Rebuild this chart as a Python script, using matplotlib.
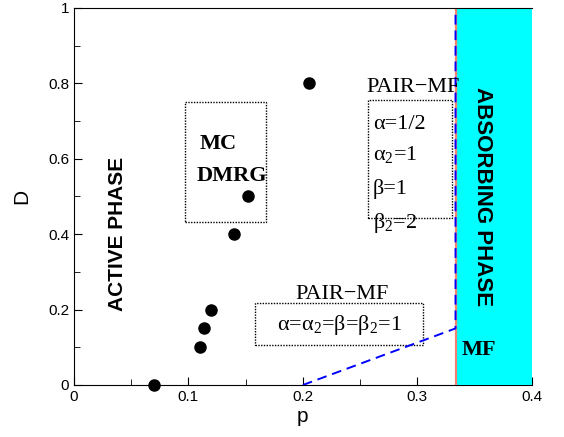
import matplotlib.pyplot as plt
from matplotlib.patches import Rectangle

# data points (MC / DMRG)
p_pts = [0.070, 0.110, 0.114, 0.120, 0.140, 0.152, 0.205]
d_pts = [0.0, 0.10, 0.15, 0.20, 0.40, 0.50, 0.80]

# mean-field boundary
mf_p = [0.2, 1/3, 1/3]
mf_d = [0.0, 0.15, 1.0]

SERIF = 'Liberation Serif'
SANS = 'Liberation Sans'
plt.rcParams['mathtext.fontset'] = 'custom'
plt.rcParams['mathtext.rm'] = SERIF
plt.rcParams['mathtext.it'] = SERIF
plt.rcParams['mathtext.default'] = 'rm'

fig = plt.figure(figsize=(5.64, 4.37), dpi=100)
ax = fig.add_axes([0.131, 0.119, 0.812, 0.863])

# absorbing phase region
ax.add_patch(Rectangle((1/3, 0), 0.4 - 1/3, 1, facecolor='#00ffff',
                       edgecolor='none', zorder=3))
ax.axvline(1/3, color='#f08070', lw=1.6, zorder=4)
ax.plot(mf_p, mf_d, color='#0000ff', lw=1.4, ls=(0, (5, 3)), zorder=5)

ax.plot(p_pts, d_pts, 'o', color='black', ms=8, zorder=6, clip_on=False)

# dotted boxes
for x0, y0, x1, y1 in [(0.097, 0.432, 0.168, 0.750),
                       (0.257, 0.443, 0.330, 0.756),
                       (0.158, 0.106, 0.305, 0.217)]:
    ax.add_patch(Rectangle((x0, y0), x1 - x0, y1 - y0, fill=False,
                           edgecolor='black', lw=1, ls=(0, (1, 1)), zorder=2))

ax.text(0.038, 0.40, 'ACTIVE PHASE', rotation=90, ha='center', va='center',
        family=SANS, weight='bold', fontsize=15)
ax.text(0.357, 0.50, 'ABSORBING PHASE', rotation=-90, ha='center', va='center',
        family=SANS, weight='bold', fontsize=16, zorder=7)
ax.text(0.354, 0.093, 'MF', ha='center', va='center', family=SERIF,
        weight='bold', fontsize=16, zorder=7)
ax.text(0.126, 0.64, 'MC', ha='center', va='center', family=SERIF,
        weight='bold', fontsize=16)
ax.text(0.138, 0.555, 'DMRG', ha='center', va='center', family=SERIF,
        weight='bold', fontsize=16)

ax.text(0.296, 0.79, 'PAIR\u2212MF', ha='center', va='center', family=SERIF,
        fontsize=16, zorder=7)
for yy, s in [(0.69, 'α=1/2'), (0.61, r'$α_{2}$=1'),
              (0.52, 'β=1'), (0.43, r'$β_{2}$=2')]:
    ax.text(0.261, yy, s, ha='left', va='center', family=SERIF, fontsize=16)

ax.text(0.234, 0.24, 'PAIR\u2212MF', ha='center', va='center', family=SERIF,
        fontsize=16)
ax.text(0.232, 0.16, r'α=$α_{2}$=β=$β_{2}$=1', ha='center',
        va='center', family=SERIF, fontsize=16)

ax.set_xlim(0, 0.4)
ax.set_ylim(0, 1)
ax.set_xticks([0, 0.1, 0.2, 0.3, 0.4])
ax.set_xticklabels(['0', '0.1', '0.2', '0.3', '0.4'])
ax.set_xticks([0.05, 0.15, 0.25, 0.35], minor=True)
ax.set_yticks([0, 0.2, 0.4, 0.6, 0.8, 1])
ax.set_yticklabels(['0', '0.2', '0.4', '0.6', '0.8', '1'])
ax.set_yticks([0.1, 0.3, 0.5, 0.7, 0.9], minor=True)
ax.tick_params(which='both', direction='in', top=False, right=False,
               labelsize=11)
ax.tick_params(which='major', length=6)
ax.tick_params(which='minor', length=4)
for lbl in ax.get_xticklabels() + ax.get_yticklabels():
    lbl.set_family(SANS)
ax.spines['right'].set_visible(False)
ax.spines['top'].set_zorder(8)

ax.set_xlabel('p', family=SANS, fontsize=15, labelpad=2)
ax.set_ylabel('D', family=SANS, fontsize=15, labelpad=12)

fig.savefig('out.png', dpi=100)
